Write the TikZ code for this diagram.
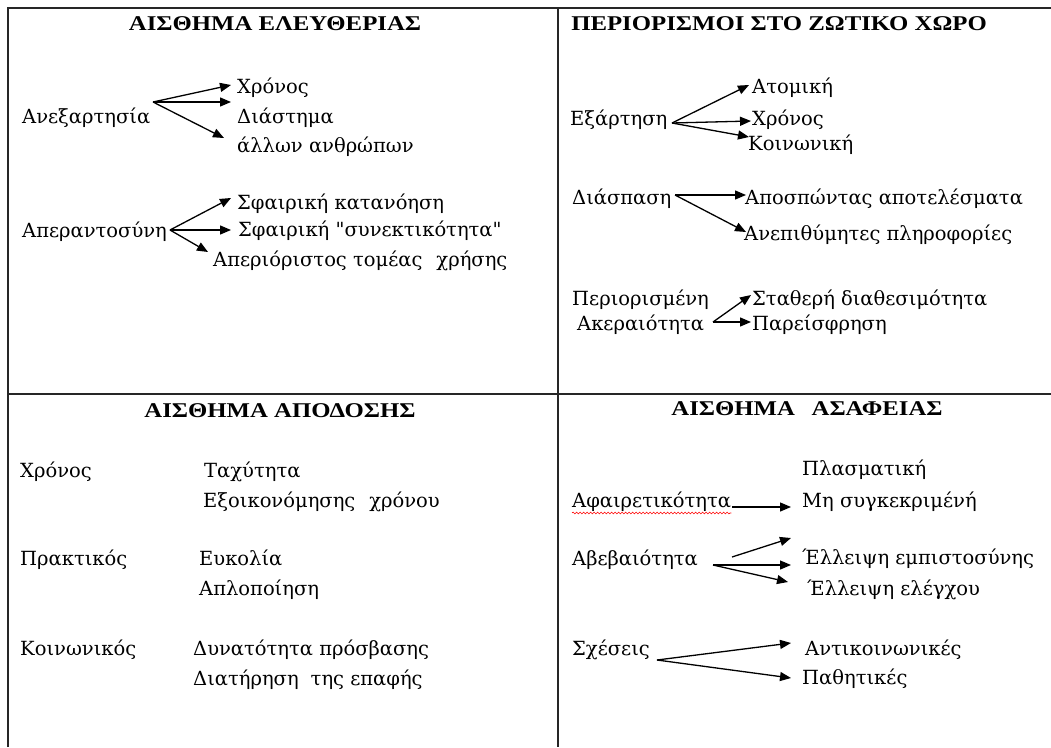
\documentclass[tikz,border=0pt]{standalone}
\usepackage{fontspec}
\setmainfont{DejaVu Serif}[Ligatures=TeXOff]
\newfontfamily\headfont{Liberation Serif}[FakeStretch=1.18, Ligatures=TeXOff]
\usetikzlibrary{arrows.meta,decorations.pathmorphing}
\tikzset{
 txt/.style={font=\fontsize{19.5}{24}\selectfont, anchor=base west, inner sep=0pt, text height=15pt, text depth=5pt},
 head/.style={font=\headfont\fontsize{21}{24}\selectfont\bfseries, anchor=base, inner sep=0pt},
 arr/.style={-{Triangle[length=11pt,width=9pt]}, line width=1.3pt},
 frame/.style={line width=1.8pt, black!85}
}
\begin{document}
\begin{tikzpicture}[x=1pt,y=-1pt]
\useasboundingbox (0,0) rectangle (1051,747);
% frame
\coordinate (tl) at (8,8);
\coordinate (tr) at (1051,8);
\coordinate (bl) at (8,747);
\coordinate (vt) at (558,8);
\coordinate (vb) at (558,747);
\coordinate (hl) at (8,394);
\coordinate (hr) at (1051,394);
\draw[frame] (bl) -- (tl) -- (tr);
\draw[frame] (vt) -- (vb);
\draw[frame] (hl) -- (hr);

% ---- top left
\node[head] (h1) at (275,30) {ΑΙΣΘΗΜΑ ΕΛΕΥΘΕΡΙΑΣ};
\node[txt] (ane) at (22,123) {Ανεξαρτησία};
\node[txt] (ane1) at (237,93) {Χρόνος};
\node[txt] (ane2) at (237,123) {Διάστημα};
\node[txt] (ane3) at (237,152) {άλλων ανθρώπων};
\coordinate (aneo) at (153,102);
\coordinate (ane1t) at (231,85);
\coordinate (ane2t) at (231,102);
\coordinate (ane3t) at (224,138);
\draw[arr] (aneo) -- (ane1t);
\draw[arr] (aneo) -- (ane2t);
\draw[arr] (aneo) -- (ane3t);

\node[txt] (apr) at (22,237) {Απεραντοσύνη};
\node[txt] (apr1) at (237,209) {Σφαιρική κατανόηση};
\node[txt] (apr2) at (238,236) {Σφαιρική "συνεκτικότητα"};
\node[txt] (apr3) at (213,266) {Απεριόριστος τομέας\hspace{0.4em} χρήσης};
\coordinate (apro) at (170,230);
\coordinate (apr1t) at (231,198);
\coordinate (apr2t) at (231,230);
\coordinate (apr3t) at (208,252);
\draw[arr] (apro) -- (apr1t);
\draw[arr] (apro) -- (apr2t);
\draw[arr] (apro) -- (apr3t);

% ---- top right
\node[head] (h2) at (779,30) {ΠΕΡΙΟΡΙΣΜΟΙ ΣΤΟ ΖΩΤΙΚΟ ΧΩΡΟ};
\node[txt] (exa) at (570,125) {Εξάρτηση};
\node[txt] (exa1) at (752,93) {Ατομική};
\node[txt] (exa2) at (752,125) {Χρόνος};
\node[txt] (exa3) at (748,150) {Κοινωνική};
\coordinate (exao) at (672,123);
\coordinate (exa1t) at (749,85);
\coordinate (exa2t) at (751,121);
\coordinate (exa3t) at (749,137);
\draw[arr] (exao) -- (exa1t);
\draw[arr] (exao) -- (exa2t);
\draw[arr] (exao) -- (exa3t);

\node[txt] (dia) at (572,204) {Διάσπαση};
\node[txt] (dia1) at (745,204) {Αποσπώντας αποτελέσματα};
\node[txt] (dia2) at (744,240) {Ανεπιθύμητες πληροφορίες};
\coordinate (diao) at (675,195);
\coordinate (dia1t) at (746,195);
\coordinate (dia2t) at (746,232);
\draw[arr] (diao) -- (dia1t);
\draw[arr] (diao) -- (dia2t);

\node[txt] (per) at (572,305) {Περιορισμένη};
\node[txt] (ake) at (577,330) {Ακεραιότητα};
\node[txt] (per1) at (752,305) {Σταθερή διαθεσιμότητα};
\node[txt] (per2) at (752,330) {Παρείσφρηση};
\coordinate (akeo) at (713,322);
\coordinate (per1t) at (751,295);
\coordinate (per2t) at (751,322);
\draw[arr] (akeo) -- (per1t);
\draw[arr] (akeo) -- (per2t);

% ---- bottom left
\node[head] (h3) at (280,417) {ΑΙΣΘΗΜΑ ΑΠΟΔΟΣΗΣ};
\node[txt] (xr) at (20,477) {Χρόνος};
\node[txt] (xr1) at (204,477) {Ταχύτητα};
\node[txt] (xr2) at (203,507) {Εξοικονόμησης\hspace{0.4em} χρόνου};
\node[txt] (pr) at (20,565) {Πρακτικός};
\node[txt] (pr1) at (199,565) {Ευκολία};
\node[txt] (pr2) at (199,595) {Απλοποίηση};
\node[txt] (ko) at (20,655) {Κοινωνικός};
\node[txt] (ko1) at (193,655) {Δυνατότητα πρόσβασης};
\node[txt] (ko2) at (193,685) {Διατήρηση\hspace{0.3em} της επαφής};

% ---- bottom right
\node[head] (h4) at (807,415) {ΑΙΣΘΗΜΑ\hspace{0.5em} ΑΣΑΦΕΙΑΣ};
\node[txt] (af) at (572,507) {Αφαιρετικότητα};
\node[txt] (af1) at (802,475) {Πλασματική};
\node[txt] (af2) at (802,507) {Μη συγκεκριμένή};
\draw[red, line width=0.6pt, decorate, decoration={snake,amplitude=0.9pt,segment length=3.5pt}]
  ([yshift=-6pt]af.base west) -- ([yshift=-6pt]af.base east);
\coordinate (afo) at (732,507);
\coordinate (af2t) at (791,507);
\draw[arr] (afo) -- (af2t);

\node[txt] (ab) at (572,565) {Αβεβαιότητα};
\node[txt] (ab1) at (802,564) {Έλλειψη εμπιστοσύνης};
\node[txt] (ab2) at (807,595) {Έλλειψη ελέγχου};
\coordinate (abo1) at (732,557);
\coordinate (ab0t) at (791,538);
\coordinate (abo) at (713,565);
\coordinate (ab1t) at (791,565);
\coordinate (ab2t) at (788,582);
\draw[arr] (abo1) -- (ab0t);
\draw[arr] (abo) -- (ab1t);
\draw[arr] (abo) -- (ab2t);

\node[txt] (sx) at (572,655) {Σχέσεις};
\node[txt] (sx1) at (805,655) {Αντικοινωνικές};
\node[txt] (sx2) at (802,684) {Παθητικές};
\coordinate (sxo) at (657,660);
\coordinate (sx1t) at (791,643);
\coordinate (sx2t) at (791,678);
\draw[arr] (sxo) -- (sx1t);
\draw[arr] (sxo) -- (sx2t);
\end{tikzpicture}
\end{document}
